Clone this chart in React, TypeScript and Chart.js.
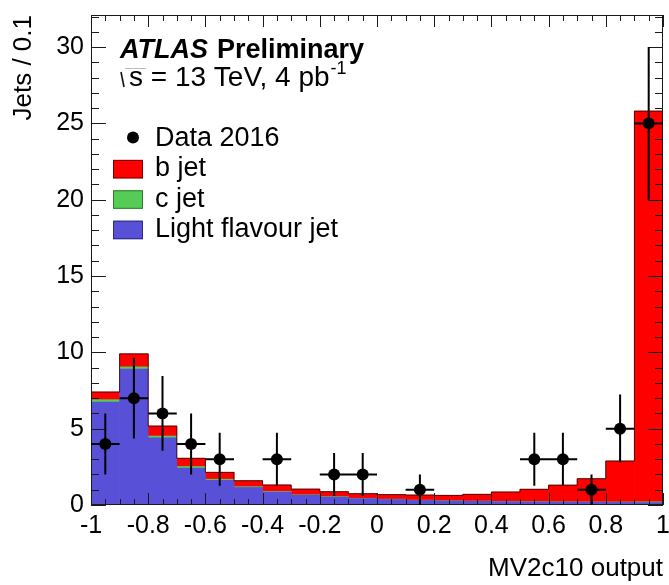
import { useEffect, useRef } from 'react';
import { Chart, registerables } from 'chart.js';

Chart.register(...registerables);

// MV2c10 output histogram: 20 bins of width 0.1 from -1 to 1
const binCenters = [
  -0.95, -0.85, -0.75, -0.65, -0.55, -0.45, -0.35, -0.25, -0.15, -0.05,
  0.05, 0.15, 0.25, 0.35, 0.45, 0.55, 0.65, 0.75, 0.85, 0.95,
];
const binHalfWidth = 0.05;

// Simulated flavour contributions (jets per bin)
const lightJet = [
  6.75, 8.9, 4.4, 2.42, 1.62, 1.15, 0.85, 0.64, 0.52, 0.42,
  0.36, 0.3, 0.26, 0.24, 0.22, 0.2, 0.19, 0.18, 0.17, 0.16,
];
const charmJet = [
  0.15, 0.15, 0.12, 0.1, 0.07, 0.05, 0.04, 0.03, 0.03, 0.02,
  0.02, 0.02, 0.02, 0.02, 0.02, 0.02, 0.02, 0.02, 0.03, 0.05,
];
const bJet = [
  0.5, 0.85, 0.65, 0.54, 0.45, 0.39, 0.42, 0.37, 0.32, 0.3,
  0.3, 0.33, 0.35, 0.44, 0.61, 0.81, 1.09, 1.52, 2.68, 25.59,
];

// Observed counts, Data 2016
const data2016 = [4, 7, 6, 4, 3, 0, 3, 0, 2, 2, 0, 1, 0, 0, 0, 3, 3, 1, 5, 25];

const xMin = -1;
const xMax = 1;
const xLabelStep = 0.2;
const xMinorStep = 0.05;
const yMin = 0;
const yMax = 32.1;
const yLabelStep = 5;
const yMinorStep = 1;

const FONT = "'Liberation Sans', Arial, Helvetica, sans-serif";

const COLORS = {
  b: '#ff0000',
  c: '#55cc55',
  light: '#5850d6',
  bEdge: '#7a0000',
  cEdge: '#2f7a2f',
  lightEdge: '#2f2a80',
};

const legendRows = [
  { label: 'b jet', fill: COLORS.b, edge: COLORS.bEdge },
  { label: 'c jet', fill: COLORS.c, edge: COLORS.cEdge },
  { label: 'Light flavour jet', fill: COLORS.light, edge: COLORS.lightEdge },
];

const DATA_INDEX = 4;

const stackTotals = binCenters.map((_, i) => lightJet[i] + charmJet[i] + bJet[i]);
const outlinePoints = [
  { x: xMin, y: stackTotals[0] },
  ...binCenters.map((c, i) => ({ x: c, y: stackTotals[i] })),
  { x: xMax, y: stackTotals[stackTotals.length - 1] },
];

function fmtTick(v: number) {
  return String(Math.round(v * 10) / 10);
}

// Frame, inward tick marks and the data error bars, drawn above the stack
const framePlugin = {
  id: 'atlasFrame',
  beforeDatasetDraw(chart: any, args: any) {
    if (args.index !== DATA_INDEX) return;
    const { ctx, chartArea: a, scales } = chart;
    const xs = scales.x;
    const ys = scales.y;
    ctx.save();
    ctx.strokeStyle = '#1a1a1a';
    ctx.lineWidth = 1;
    ctx.beginPath();
    const nx = Math.round((xMax - xMin) / xMinorStep);
    const perMajorX = Math.round(xLabelStep / xMinorStep);
    for (let k = 0; k <= nx; k++) {
      const v = xMin + k * xMinorStep;
      const px = Math.round(xs.getPixelForValue(v)) + 0.5;
      const len = k % perMajorX === 0 ? 12 : 6;
      ctx.moveTo(px, a.bottom);
      ctx.lineTo(px, a.bottom - len);
      ctx.moveTo(px, a.top);
      ctx.lineTo(px, a.top + len);
    }
    for (let v = yMin; v <= yMax; v += yMinorStep) {
      const py = Math.round(ys.getPixelForValue(v)) + 0.5;
      const len = v % yLabelStep === 0 ? 15 : 8;
      ctx.moveTo(a.left, py);
      ctx.lineTo(a.left + len, py);
      ctx.moveTo(a.right, py);
      ctx.lineTo(a.right - len, py);
    }
    ctx.stroke();
    ctx.strokeRect(a.left + 0.5, a.top + 0.5, a.right - a.left - 1, a.bottom - a.top - 1);

    // Poisson error bars on the data points
    ctx.strokeStyle = '#000';
    ctx.lineWidth = 2;
    ctx.beginPath();
    binCenters.forEach((c, i) => {
      const n = data2016[i];
      if (n <= 0) return;
      const err = Math.sqrt(n);
      const px = xs.getPixelForValue(c);
      const py = ys.getPixelForValue(n);
      ctx.moveTo(px, ys.getPixelForValue(Math.min(n + err, yMax)));
      ctx.lineTo(px, ys.getPixelForValue(Math.max(n - err, yMin)));
      ctx.moveTo(xs.getPixelForValue(c - binHalfWidth), py);
      ctx.lineTo(xs.getPixelForValue(c + binHalfWidth), py);
    });
    ctx.stroke();
    ctx.restore();
  },
};

// ATLAS label, energy / luminosity line and legend
const labelPlugin = {
  id: 'atlasLabels',
  afterDraw(chart: any) {
    const { ctx } = chart;
    ctx.save();
    ctx.fillStyle = '#000';
    ctx.textBaseline = 'alphabetic';
    ctx.textAlign = 'left';

    ctx.font = `italic bold 27px ${FONT}`;
    ctx.fillText('ATLAS', 120, 58);
    const w = ctx.measureText('ATLAS').width;
    ctx.font = `bold 27px ${FONT}`;
    ctx.fillText('Preliminary', 120 + w + 9, 58);

    // radical sign over s
    ctx.strokeStyle = '#111';
    ctx.lineWidth = 1.6;
    ctx.beginPath();
    ctx.moveTo(121, 72);
    ctx.lineTo(124, 87);
    ctx.stroke();
    ctx.strokeStyle = '#bbb';
    ctx.lineWidth = 1;
    ctx.beginPath();
    ctx.moveTo(125, 68.5);
    ctx.lineTo(146, 68.5);
    ctx.stroke();

    ctx.font = `28px ${FONT}`;
    const line2 = 's = 13 TeV, 4 pb';
    ctx.fillText(line2, 129, 86);
    const w2 = ctx.measureText(line2).width;
    ctx.font = `18px ${FONT}`;
    ctx.fillText('-1', 129 + w2 + 1, 74);

    // legend
    const baseY = 146;
    const rowStep = 30.4;
    ctx.beginPath();
    ctx.arc(133, 137.5, 6, 0, Math.PI * 2);
    ctx.fill();
    ctx.font = `27px ${FONT}`;
    ctx.fillText('Data 2016', 155, baseY);
    legendRows.forEach((row, i) => {
      const by = baseY + (i + 1) * rowStep;
      ctx.fillStyle = row.fill;
      ctx.fillRect(113, by - 16.5, 30, 18.5);
      ctx.strokeStyle = row.edge;
      ctx.lineWidth = 1;
      ctx.strokeRect(113.5, by - 16, 29, 17.5);
      ctx.fillStyle = '#000';
      ctx.fillText(row.label, 155, by);
    });
    ctx.restore();
  },
};

export default function App() {
  const canvasRef = useRef<HTMLCanvasElement>(null);

  useEffect(() => {
    if (!canvasRef.current) return;
    const barCommon = {
      type: 'bar' as const,
      barPercentage: 1,
      categoryPercentage: 1,
      borderWidth: 0,
      stack: 'mc',
    };
    const chart = new Chart(canvasRef.current, {
      type: 'bar',
      data: {
        datasets: [
          {
            ...barCommon,
            label: 'Light flavour jet',
            data: binCenters.map((c, i) => ({ x: c, y: lightJet[i] })),
            backgroundColor: COLORS.light,
            order: 3,
          },
          {
            ...barCommon,
            label: 'c jet',
            data: binCenters.map((c, i) => ({ x: c, y: charmJet[i] })),
            backgroundColor: COLORS.c,
            order: 4,
          },
          {
            ...barCommon,
            label: 'b jet',
            data: binCenters.map((c, i) => ({ x: c, y: bJet[i] })),
            backgroundColor: COLORS.b,
            order: 5,
          },
          {
            type: 'line' as const,
            label: 'outline',
            data: outlinePoints,
            stepped: 'middle',
            borderColor: 'rgba(60,0,0,0.85)',
            borderWidth: 1,
            pointRadius: 0,
            fill: false,
            stack: 'outline',
            order: 1,
          },
          {
            type: 'scatter' as const,
            label: 'Data 2016',
            data: binCenters
              .map((c, i) => ({ x: c, y: data2016[i] }))
              .filter((p) => p.y > 0),
            backgroundColor: '#000',
            borderColor: '#000',
            pointRadius: 6,
            pointBorderWidth: 0,
            stack: 'data',
            order: 0,
          },
        ] as any,
      },
      options: {
        responsive: false,
        animation: false,
        devicePixelRatio: 1,
        events: [],
        layout: { padding: { top: 15, right: 3, left: 0, bottom: 0 } },
        plugins: {
          legend: { display: false },
          tooltip: { enabled: false },
        },
        scales: {
          x: {
            type: 'linear',
            stacked: true,
            offset: false,
            min: xMin,
            max: xMax,
            grid: { display: false, drawTicks: false, offset: false },
            border: { display: false },
            ticks: {
              stepSize: xLabelStep,
              autoSkip: false,
              maxRotation: 0,
              padding: 6,
              color: '#000',
              font: { family: FONT, size: 25 },
              callback: (v: any) => fmtTick(Number(v)),
            },
            title: {
              display: true,
              text: 'MV2c10 output',
              align: 'end',
              color: '#000',
              font: { family: FONT, size: 26 },
              padding: { top: 0, bottom: 1 },
            },
            afterFit: (scale: any) => {
              scale.height = 80;
              scale.paddingLeft = 0;
              scale.paddingRight = 0;
            },
          },
          y: {
            type: 'linear',
            stacked: true,
            min: yMin,
            max: yMax,
            grid: { display: false, drawTicks: false },
            border: { display: false },
            ticks: {
              stepSize: yLabelStep,
              autoSkip: false,
              padding: 7,
              color: '#000',
              font: { family: FONT, size: 25 },
              callback: (v: any) => {
                const n = Number(v);
                return Math.abs(n - Math.round(n / yLabelStep) * yLabelStep) < 1e-6
                  ? String(Math.round(n))
                  : '';
              },
            },
            title: {
              display: true,
              text: 'Jets / 0.1',
              align: 'end',
              color: '#000',
              font: { family: FONT, size: 26 },
              padding: { top: 8, bottom: 0 },
            },
            afterFit: (scale: any) => {
              scale.width = 91;
              scale.paddingTop = 0;
              scale.paddingBottom = 0;
            },
          },
        },
      } as any,
      plugins: [framePlugin, labelPlugin],
    });
    return () => chart.destroy();
  }, []);

  return (
    <div
      style={{
        position: 'absolute',
        left: 0,
        top: 0,
        width: 669,
        height: 585,
        background: '#fff',
      }}
    >
      <canvas
        ref={canvasRef}
        width={669}
        height={585}
        style={{ display: 'block', width: 669, height: 585 }}
      />
    </div>
  );
}
